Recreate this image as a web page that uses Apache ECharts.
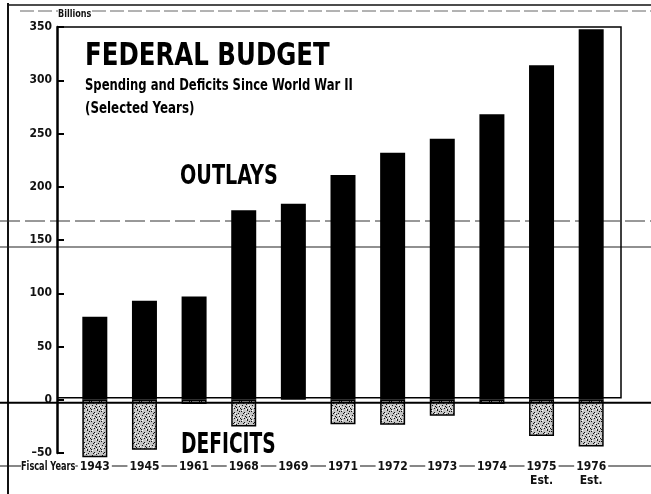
<!DOCTYPE html>
<html>
<head>
<meta charset="utf-8">
<script src="https://cdn.jsdelivr.net/npm/echarts@6/dist/echarts.min.js"></script>
<style>
  html, body { margin: 0; padding: 0; background: #fff; }
  #chart { width: 651px; height: 494px; }
</style>
</head>
<body>
<div id="chart"></div>
<script>
// values (billions of dollars)
var years = ['1943', '1945', '1961', '1968', '1969', '1971', '1972', '1973', '1974', '1975\nEst.', '1976\nEst.'];
var outlays = [78, 93, 97, 178, 184, 211, 232, 245, 268, 314, 348];
var deficits = [-54, -47, -4, -25, null, -23, -23.5, -15, -4, -34, -44];
var yTicks = { min: -50, max: 350, step: 50 };

var FONT = "'Liberation Sans Narrow', 'DejaVu Sans Condensed', 'Roboto Condensed', sans-serif";
var gridLeft = 70, gridRight = 35, gridTop = 27, gridBottom = 41;

var dom = document.getElementById('chart');
var chart = echarts.init(dom, null, { renderer: 'canvas' });

// stippled fill for the deficit bars
function stipple() {
  var c = document.createElement('canvas');
  c.width = 10; c.height = 10;
  var ctx = c.getContext('2d');
  ctx.fillStyle = '#c4c4c4';
  ctx.fillRect(0, 0, 10, 10);
  ctx.fillStyle = '#111';
  var dots = [[1, 1], [4, 2], [7, 0], [2, 5], [6, 4], [9, 6], [0, 8], [4, 8], [7, 9], [8, 3], [3, 3], [5, 6], [1, 9], [9, 1], [6, 7]];
  dots.forEach(function (d) { ctx.fillRect(d[0], d[1], 1, 1); });
  ctx.fillStyle = '#fff';
  [[2, 0], [5, 3], [8, 5], [0, 6], [3, 7], [6, 9], [9, 8]].forEach(function (d) { ctx.fillRect(d[0], d[1], 1, 1); });
  return c;
}

var W = 651, H = 494;
var frameL = gridLeft - 13, frameR = W - gridRight + 5;

var option = {
  backgroundColor: '#fff',
  animation: false,
  grid: { left: gridLeft, right: gridRight, top: gridTop, bottom: gridBottom, containLabel: false },
  xAxis: {
    type: 'category',
    data: years,
    axisLine: { show: false },
    axisTick: { show: false },
    axisLabel: {
      margin: 7,
      color: '#111',
      fontFamily: FONT,
      fontWeight: 'bold',
      fontSize: 12,
      lineHeight: 14,
      backgroundColor: '#fff',
      padding: [0, 2]
    }
  },
  yAxis: {
    type: 'value',
    min: yTicks.min,
    max: yTicks.max,
    interval: yTicks.step,
    offset: 13,
    splitLine: { show: false },
    axisLine: { show: true, lineStyle: { color: '#000', width: 2.5 } },
    axisTick: { show: true, inside: true, length: 7, lineStyle: { color: '#000', width: 2 } },
    axisLabel: {
      margin: 5,
      color: '#111',
      fontFamily: FONT,
      fontWeight: 'bold',
      fontSize: 12,
      formatter: function (v) { return v < 0 ? '\u2013' + Math.abs(v) : v; }
    }
  },
  series: [
    {
      name: 'Outlays',
      type: 'bar',
      stack: 'budget',
      barWidth: 25,
      clip: false,
      itemStyle: { color: '#000' },
      data: outlays,
      z: 3
    },
    {
      name: 'Deficits',
      type: 'bar',
      stack: 'budget',
      barWidth: 25,
      clip: false,
      itemStyle: {
        color: { image: stipple(), repeat: 'repeat' },
        borderColor: '#000',
        borderWidth: 1.5
      },
      data: deficits,
      z: 3
    }
  ]
};

chart.setOption(option);

var zeroY = chart.convertToPixel({ yAxisIndex: 0 }, 0);
var topY = chart.convertToPixel({ yAxisIndex: 0 }, yTicks.max);
var baseY = chart.convertToPixel({ yAxisIndex: 0 }, yTicks.min);

function label(text, x, y, size, sx, extra) {
  var st = { text: text, x: 0, y: 0, fill: '#000', font: 'bold ' + size + 'px ' + FONT, textAlign: 'left', textVerticalAlign: 'top' };
  if (extra) { for (var k in extra) st[k] = extra[k]; }
  return { type: 'text', z: 6, x: x, y: y, scaleX: sx, style: st };
}

chart.setOption({
  graphic: [
    // scan / page rules
    { type: 'line', z: 0, shape: { x1: 8, y1: 3, x2: 8, y2: H }, style: { stroke: '#111', lineWidth: 2 } },
    { type: 'line', z: 0, shape: { x1: 8, y1: 5, x2: W, y2: 5 }, style: { stroke: '#111', lineWidth: 1.5 } },
    { type: 'line', z: 0, shape: { x1: 20, y1: 11, x2: W, y2: 11 }, style: { stroke: '#666', lineWidth: 1, lineDash: [14, 4] } },
    { type: 'line', z: 0, shape: { x1: 0, y1: 221, x2: W, y2: 221 }, style: { stroke: '#333', lineWidth: 1, lineDash: [20, 5] } },
    { type: 'line', z: 0, shape: { x1: 0, y1: 247, x2: W, y2: 247 }, style: { stroke: '#222', lineWidth: 1.2 } },
    // plot frame
    { type: 'polyline', z: 1, shape: { points: [[frameL, topY], [frameR, topY], [frameR, zeroY - 2], [frameL, zeroY - 2]] }, style: { stroke: '#000', fill: null, lineWidth: 1.5 } },
    // zero rule across the page
    { type: 'line', z: 5, shape: { x1: 0, y1: zeroY + 3, x2: W, y2: zeroY + 3 }, style: { stroke: '#000', lineWidth: 2 } },
    // fiscal years rule
    { type: 'line', z: 0, shape: { x1: 0, y1: baseY + 13, x2: W, y2: baseY + 13 }, style: { stroke: '#111', lineWidth: 1.2 } },
    label('Fiscal Years', 21, baseY + 7, 13, 0.7, { fill: '#111', backgroundColor: '#fff' }),
    label('Billions', frameL + 1, 9, 10, 0.9, { fill: '#111', backgroundColor: '#fff' }),
    // titles
    label('FEDERAL BUDGET', 85, 41, 32, 0.85),
    label('Spending and Deficits Since World War II', 85, 79, 15, 0.86),
    label('(Selected Years)', 85, 102, 15, 0.88),
    label('OUTLAYS', 180, 163, 27, 0.79),
    label('DEFICITS', 181, 432, 28, 0.74)
  ]
});

window.onresize = function () {
  chart.resize();
};
</script>
</body>
</html>
